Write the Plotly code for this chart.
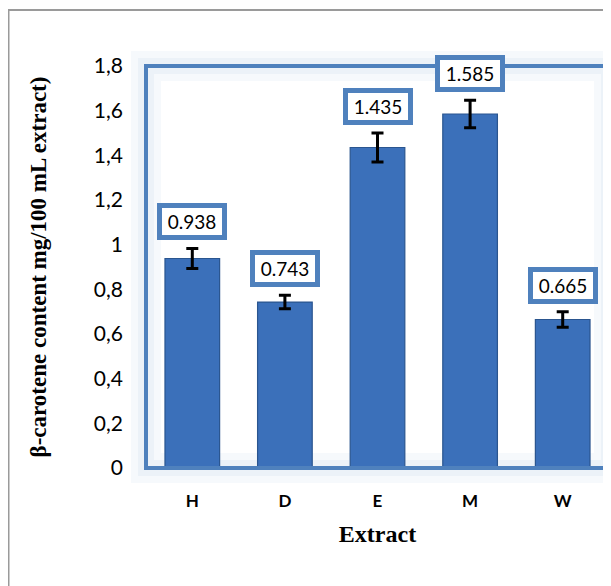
import plotly.graph_objects as go

categories = ["H", "D", "E", "M", "W"]
values = [0.938, 0.743, 1.435, 1.585, 0.665]
errors = [0.045, 0.03, 0.065, 0.062, 0.035]
value_labels = ["0.938", "0.743", "1.435", "1.585", "0.665"]
y_ticks = [0, 0.2, 0.4, 0.6, 0.8, 1.0, 1.2, 1.4, 1.6, 1.8]
y_tick_labels = ["0", "0,2", "0,4", "0,6", "0,8", "1", "1,2", "1,4", "1,6", "1,8"]

# page body has an 8px margin, so the figure is sized to fit inside the window
W, H = 603, 578
L, R, T, B = 138, 2, 58, 118

fig = go.Figure()
fig.add_trace(go.Bar(
    x=categories, y=values,
    marker=dict(color="#3b70ba", line=dict(color="#2a558f", width=1.2)),
    error_y=dict(type="data", array=errors, visible=True, color="black", thickness=3, width=6),
    width=0.59,
))

for c, v, e, t in zip(categories, values, errors, value_labels):
    fig.add_annotation(
        x=c, y=v + e, text=t, showarrow=False, yanchor="bottom", yshift=8,
        font=dict(family="Lato, Open Sans, sans-serif", size=19, color="black"),
        bgcolor="white", bordercolor="#4f81bd", borderwidth=5, borderpad=2,
        width=56, height=23,
    )

pw = W - L - R
ph = H - T - B
# outer chart border (gray)
fig.add_shape(type="line", xref="paper", yref="paper",
              x0=(0.5 - L) / pw, x1=(0.5 - L) / pw, y0=(H - B - 2) / ph, y1=(H - B - 600) / ph,
              line=dict(color="#9a9a9a", width=2))
fig.add_shape(type="line", xref="paper", yref="paper",
              x0=(0 - L) / pw, x1=1.1, y0=(H - B - 2) / ph, y1=(H - B - 2) / ph,
              line=dict(color="#9a9a9a", width=2))
# soft inner shading of the plot area
fig.add_shape(type="rect", xref="paper", yref="paper", x0=0, x1=1, y0=0, y1=1,
              line=dict(color="rgba(79,129,189,0.05)", width=30), layer="below")
fig.add_shape(type="rect", xref="paper", yref="paper", x0=0, x1=1, y0=0, y1=1,
              line=dict(color="rgba(79,129,189,0.06)", width=16), layer="below")
# plot area frame
fig.add_shape(type="rect", xref="paper", yref="paper", x0=0, x1=1, y0=0, y1=1,
              line=dict(color="#4f81bd", width=4), layer="above")

fig.update_layout(
    width=W, height=H,
    margin=dict(l=L, r=R, t=T, b=B, autoexpand=False),
    plot_bgcolor="white", paper_bgcolor="white",
    showlegend=False,
    xaxis=dict(
        range=[-0.5, 4.5], showgrid=False, zeroline=False, showline=False,
        tickfont=dict(family="Lato, Open Sans, sans-serif", size=17, color="black", weight="bold"),
        ticklabelstandoff=21, automargin=False,
        title=dict(text="<b>Extract</b>", font=dict(family="Liberation Serif, Times New Roman, serif", size=24, color="black"), standoff=15),
    ),
    yaxis=dict(
        range=[0, 1.8], tickvals=y_ticks, ticktext=y_tick_labels,
        showgrid=False, zeroline=False, showline=False,
        tickfont=dict(family="Lato, Open Sans, sans-serif", size=21, color="black"),
        ticklabelstandoff=22, automargin=False,
        title=dict(text="<b>β-carotene content mg/100 mL extract)</b>", font=dict(family="Liberation Serif, Times New Roman, serif", size=23, color="black"), standoff=40),
    ),
)

fig.write_html("out.html")
